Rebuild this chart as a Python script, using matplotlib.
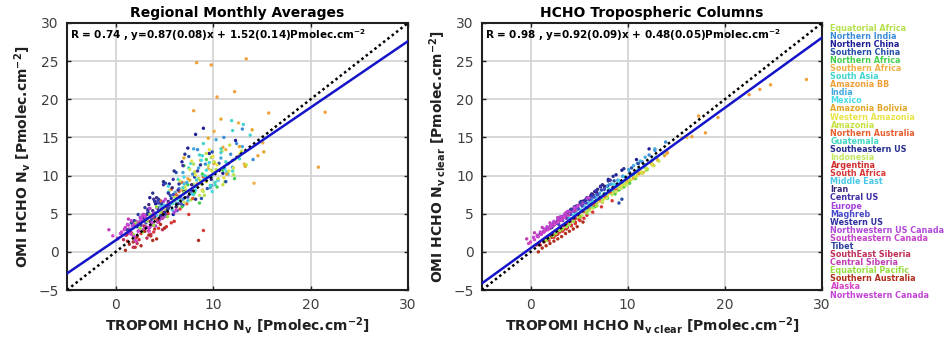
import matplotlib
matplotlib.use("Agg")
import matplotlib.pyplot as plt

plt.rcParams['font.family'] = ['DejaVu Sans']
plt.rcParams['mathtext.fontset'] = 'custom'
plt.rcParams['mathtext.bf'] = 'DejaVu Sans:bold'
plt.rcParams['mathtext.rm'] = 'DejaVu Sans'
plt.rcParams['mathtext.default'] = 'bf'

regions = ["Equatorial Africa", "Northern India", "Northern China", "Southern China",
           "Northern Africa", "Southern Africa", "South Asia", "Amazonia BB", "India",
           "Mexico", "Amazonia Bolivia", "Western Amazonia", "Amazonia",
           "Northern Australia", "Guatemala", "Southeastern US", "Indonesia",
           "Argentina", "South Africa", "Middle East", "Iran", "Central US", "Europe",
           "Maghreb", "Western US", "Northwestern US Canada", "Southeastern Canada",
           "Tibet", "SouthEast Siberia", "Central Siberia", "Equatorial Pacific",
           "Southern Australia", "Alaska", "Northwestern Canada"]

colors = ["#b4e04c", "#3c8cdc", "#1e1e96", "#2850a8", "#44d04c", "#f0b048", "#44d4d0",
          "#f0a038", "#44a8e0", "#48dce8", "#e4a828", "#e8e448", "#c8e040", "#e86030",
          "#44d8c4", "#283090", "#c4e864", "#d02c2c", "#d83838", "#48c8e8", "#3c2878",
          "#4030a4", "#a440d8", "#4848c8", "#3030a0", "#b048d8", "#c444c8", "#3040a0",
          "#c03058", "#c040b4", "#98e040", "#b03020", "#d444c4", "#c444d8"]

# Left panel: TROPOMI Nv (x) vs OMI Nv (y)
left_x = [
    [7.2, 8.5, 9.1, 10.3, 11.2, 8.0, 9.8, 12.1, 7.7, 10.9, 8.8, 9.5],
    [6.5, 7.9, 9.2, 10.5, 11.8, 13.0, 8.4, 12.4, 6.9, 9.8, 11.1, 14.1],
    [2.8, 4.1, 5.5, 6.8, 8.2, 9.6, 11.0, 12.3, 3.5, 7.4, 9.0, 5.9],
    [4.3, 5.6, 6.9, 8.1, 9.4, 10.6, 5.1, 7.5, 8.8, 6.2, 9.9, 11.3],
    [6.2, 7.4, 8.6, 9.8, 11.0, 7.0, 8.1, 9.3, 10.4, 12.2, 6.8, 8.9],
    [5.3, 6.8, 8.0, 9.5, 11.3, 13.2, 7.4, 10.1, 12.6, 15.1, 8.7, 14.2],
    [8.3, 9.6, 10.8, 12.0, 13.1, 9.0, 11.4, 12.7, 10.2, 13.8, 8.9, 11.9],
    [8.3, 9.8, 12.2, 21.5, 20.8, 15.7, 8.0, 10.4, 13.4, 7.1, 11.0, 14.6],
    [6.1, 7.3, 8.5, 9.7, 10.8, 12.0, 6.9, 8.0, 9.2, 10.3, 11.5, 13.0],
    [4.8, 5.9, 7.0, 8.2, 9.3, 10.5, 5.4, 6.5, 7.7, 8.8, 9.9, 11.2],
    [6.4, 7.6, 8.9, 10.1, 11.4, 12.7, 14.0, 7.0, 9.5, 13.3, 15.2, 10.8],
    [7.1, 8.2, 9.3, 10.4, 11.6, 12.7, 7.8, 8.9, 10.0, 11.1, 9.6, 12.1],
    [7.5, 8.7, 9.8, 11.0, 12.2, 13.4, 8.1, 9.3, 10.5, 11.7, 12.9, 10.1],
    [4.0, 5.1, 6.2, 7.3, 8.4, 4.6, 5.7, 6.8, 7.9, 9.0, 5.4, 6.5],
    [5.8, 6.9, 8.0, 9.1, 10.2, 11.3, 6.4, 7.5, 8.6, 9.7, 10.8, 12.0],
    [3.2, 4.3, 5.4, 6.5, 7.6, 8.7, 9.8, 3.8, 4.9, 6.0, 7.1, 8.2],
    [5.0, 6.0, 7.0, 8.0, 9.0, 10.0, 5.5, 6.6, 7.6, 8.6, 9.5, 6.3],
    [1.2, 2.0, 2.8, 3.6, 4.4, 5.2, 1.6, 2.4, 3.2, 4.0, 4.8, 6.0],
    [2.1, 3.0, 3.9, 4.8, 5.7, 6.6, 7.5, 9.0, 2.6, 3.5, 4.4, 5.3],
    [4.2, 5.0, 5.8, 6.6, 7.4, 8.2, 4.6, 5.4, 6.2, 7.0, 7.8, 9.1],
    [3.0, 3.8, 4.6, 5.4, 6.2, 7.0, 3.4, 4.2, 5.0, 5.8, 6.6, 7.8],
    [2.4, 3.4, 4.4, 5.4, 6.4, 7.4, 8.4, 2.9, 3.9, 4.9, 5.9, 6.9],
    [1.3, 2.1, 2.9, 3.7, 4.5, 5.3, 1.7, 2.5, 3.3, 4.1, 4.9, 6.0],
    [3.1, 3.9, 4.7, 5.5, 6.3, 7.1, 3.5, 4.3, 5.1, 5.9, 6.7, 7.8],
    [2.2, 2.9, 3.6, 4.3, 5.0, 5.7, 6.4, 2.6, 3.3, 4.0, 4.7, 5.4],
    [1.0, 1.7, 2.4, 3.1, 3.8, 4.5, 1.4, 2.1, 2.8, 3.5, 4.2, 5.0],
    [1.5, 2.3, 3.1, 3.9, 4.7, 5.5, 1.9, 2.7, 3.5, 4.3, 5.1, 6.2],
    [1.2, 1.9, 2.6, 3.3, 4.0, 4.7, 1.6, 2.3, 3.0, 3.7, 4.4, 5.3],
    [0.8, 1.5, 2.2, 2.9, 3.6, 4.3, 1.1, 1.8, 2.5, 3.2, 3.9, 4.8],
    [-0.7, 0.2, 1.0, 1.8, 2.6, 3.4, 0.5, 1.3, 2.1, 2.9, 3.7, 4.4],
    [1.8, 2.5, 3.2, 3.9, 4.6, 5.3, 2.1, 2.8, 3.5, 4.2, 6.0, 7.0],
    [1.0, 1.8, 2.6, 3.4, 4.2, 5.0, 1.4, 2.2, 3.0, 3.8, 4.6, 8.5],
    [0.2, 0.9, 1.6, 2.3, 3.0, 3.7, 0.6, 1.3, 2.0, 2.7, 3.4, -0.3],
    [0.5, 1.2, 1.9, 2.6, 3.3, 4.0, 0.9, 1.6, 2.3, 3.0, 3.7, 4.7],
]
left_y = [
    [8.1, 9.6, 7.4, 10.8, 9.2, 11.5, 12.4, 10.1, 6.8, 13.2, 8.9, 9.9],
    [8.3, 10.2, 11.5, 9.4, 12.8, 16.1, 13.4, 14.2, 6.9, 8.7, 15.0, 12.1],
    [4.2, 6.3, 8.9, 11.8, 15.4, 12.9, 10.3, 14.6, 7.1, 13.6, 16.2, 4.9],
    [5.7, 7.4, 6.1, 9.8, 8.3, 11.6, 9.0, 12.5, 7.0, 10.4, 13.1, 9.2],
    [7.0, 8.8, 6.4, 9.9, 10.7, 11.3, 7.8, 12.1, 8.5, 9.6, 5.9, 10.2],
    [6.2, 8.1, 7.0, 10.9, 13.4, 11.5, 9.6, 15.8, 16.9, 14.3, 12.0, 9.0],
    [9.4, 11.7, 13.0, 15.9, 16.7, 14.2, 10.5, 12.2, 8.8, 15.3, 12.6, 17.2],
    [24.8, 24.5, 21.0, 18.3, 11.1, 18.2, 18.5, 20.3, 25.3, 9.0, 13.7, 12.6],
    [7.8, 9.1, 11.0, 8.4, 12.3, 11.1, 10.4, 13.5, 9.9, 14.7, 10.2, 13.8],
    [5.9, 7.5, 9.8, 8.1, 10.7, 9.4, 8.6, 6.8, 11.6, 12.0, 7.9, 10.9],
    [7.3, 9.4, 8.1, 11.6, 10.2, 13.8, 16.0, 12.3, 14.9, 11.2, 13.1, 17.4],
    [8.5, 10.1, 9.2, 11.4, 10.6, 12.8, 11.9, 8.0, 12.5, 9.7, 13.4, 11.0],
    [7.9, 9.3, 10.7, 8.8, 12.1, 11.4, 10.5, 12.9, 9.6, 14.0, 13.2, 11.8],
    [4.4, 5.8, 7.5, 6.3, 8.9, 6.7, 8.2, 9.1, 7.0, 9.8, 5.0, 7.9],
    [6.3, 8.4, 7.5, 10.0, 9.1, 11.8, 9.5, 11.0, 12.7, 8.7, 13.5, 10.6],
    [4.9, 6.5, 5.8, 8.9, 7.6, 11.4, 9.5, 7.7, 9.2, 10.6, 12.8, 6.9],
    [5.6, 7.2, 6.5, 8.9, 7.9, 10.4, 8.0, 9.3, 10.8, 7.4, 11.3, 5.9],
    [1.4, 0.6, 2.8, 2.1, 3.9, 3.3, 2.5, 1.6, 4.4, 3.0, 5.1, 4.0],
    [1.9, 3.2, 2.6, 4.4, 3.8, 5.6, 4.9, 2.8, 2.4, 4.0, 3.1, 5.0],
    [4.8, 6.1, 5.5, 7.3, 6.7, 8.6, 6.0, 7.8, 6.4, 8.9, 7.6, 9.5],
    [4.1, 5.4, 4.7, 6.6, 5.9, 7.9, 6.2, 7.1, 5.2, 8.4, 7.2, 8.8],
    [3.6, 5.0, 6.4, 5.7, 8.1, 7.2, 10.6, 4.8, 6.9, 8.8, 9.5, 11.3],
    [2.4, 3.6, 3.0, 4.8, 4.2, 6.1, 3.9, 4.5, 5.6, 3.4, 6.6, 5.2],
    [3.8, 5.1, 4.4, 6.0, 5.4, 7.1, 5.7, 6.6, 4.9, 7.5, 6.3, 8.0],
    [3.3, 4.5, 3.9, 5.8, 5.1, 7.0, 6.3, 4.2, 5.5, 6.6, 4.8, 7.7],
    [2.2, 3.4, 2.8, 4.4, 3.7, 5.3, 3.0, 4.0, 4.9, 3.2, 5.8, 4.6],
    [2.7, 3.9, 3.3, 5.1, 4.4, 6.4, 3.6, 4.7, 5.7, 3.9, 6.9, 5.5],
    [2.9, 4.1, 3.5, 5.2, 4.6, 6.3, 3.8, 4.9, 5.8, 4.3, 6.9, 5.5],
    [1.6, 2.8, 1.1, 3.4, 2.3, 4.2, 2.2, 0.6, 3.7, 1.8, 4.8, 2.9],
    [2.9, 1.7, 3.2, 2.1, 3.9, 2.8, 2.4, 4.3, 1.4, 4.9, 3.5, 5.3],
    [2.3, 3.1, 4.0, 3.5, 5.2, 4.6, 3.8, 2.6, 4.9, 5.9, 6.7, 7.8],
    [0.2, 1.3, 0.8, 2.2, 1.7, 3.1, 1.0, 2.0, 2.7, 1.5, 3.6, 1.5],
    [1.8, 2.9, 2.3, 3.7, 3.1, 4.6, 2.6, 3.5, 1.5, 4.2, 2.7, 2.1],
    [2.4, 3.6, 2.0, 4.3, 3.2, 5.0, 3.0, 4.1, 2.7, 4.7, 3.8, 5.6],
]

# Right panel: TROPOMI Nv clear (x) vs OMI Nv clear (y)
right_x = [
    [7.0, 8.3, 9.0, 10.1, 11.0, 7.8, 9.6, 11.9, 7.5, 10.6, 8.6, 9.3],
    [6.3, 7.6, 9.0, 10.2, 11.5, 12.8, 8.1, 12.2, 6.7, 9.5, 11.0, 13.9],
    [2.6, 3.9, 5.3, 6.6, 8.0, 9.4, 10.9, 12.2, 3.3, 7.2, 8.8, 5.7],
    [4.1, 5.4, 6.7, 7.9, 9.1, 10.4, 4.9, 7.3, 8.6, 6.0, 9.4, 11.1],
    [6.0, 7.2, 8.4, 9.6, 10.8, 6.8, 7.9, 9.1, 10.2, 12.0, 6.6, 8.7],
    [5.1, 6.6, 7.8, 9.3, 11.1, 13.0, 7.2, 9.9, 12.4, 16.1, 8.5, 14.0],
    [8.1, 9.4, 10.6, 11.8, 12.9, 8.8, 11.2, 12.5, 10.0, 13.6, 8.7, 11.7],
    [24.7, 28.4, 23.6, 22.5, 19.3, 17.3, 18.0, 16.6, 14.1, 9.2, 11.6, 7.4],
    [5.9, 7.1, 8.3, 9.5, 10.6, 11.8, 6.7, 7.8, 9.0, 10.1, 11.3, 12.8],
    [4.6, 5.7, 6.8, 8.0, 9.1, 10.3, 5.2, 6.3, 7.5, 8.6, 9.7, 11.0],
    [6.2, 7.4, 8.7, 9.9, 11.2, 12.5, 13.8, 6.8, 9.3, 13.1, 15.6, 10.6],
    [6.9, 8.0, 9.1, 10.2, 11.4, 12.5, 7.6, 8.7, 9.8, 10.9, 9.4, 11.9],
    [7.3, 8.5, 9.6, 10.8, 12.0, 13.2, 7.9, 9.1, 10.3, 11.5, 12.7, 9.9],
    [3.8, 4.9, 6.0, 7.1, 8.2, 4.4, 5.5, 6.6, 7.7, 8.8, 5.2, 6.3],
    [5.6, 6.7, 7.8, 8.9, 10.0, 11.1, 6.2, 7.3, 8.4, 9.5, 10.6, 11.8],
    [3.0, 4.1, 5.2, 6.3, 7.4, 8.5, 9.6, 3.6, 4.7, 5.8, 6.9, 8.0],
    [4.8, 5.8, 6.8, 7.8, 8.8, 9.8, 5.3, 6.4, 7.4, 8.4, 9.3, 6.1],
    [1.0, 1.8, 2.6, 3.4, 4.2, 5.0, 1.4, 2.2, 3.0, 3.8, 4.6, 5.8],
    [1.9, 2.8, 3.7, 4.6, 5.5, 6.4, 7.3, 8.4, 2.4, 3.3, 4.2, 5.1],
    [4.0, 4.8, 5.6, 6.4, 7.2, 8.0, 4.4, 5.2, 6.0, 6.8, 7.6, 8.9],
    [2.8, 3.6, 4.4, 5.2, 6.0, 6.8, 3.2, 4.0, 4.8, 5.6, 6.4, 7.6],
    [2.2, 3.2, 4.2, 5.2, 6.2, 7.2, 8.2, 2.7, 3.7, 4.7, 5.7, 6.7],
    [1.1, 1.9, 2.7, 3.5, 4.3, 5.1, 1.5, 2.3, 3.1, 3.9, 4.7, 5.8],
    [2.9, 3.7, 4.5, 5.3, 6.1, 6.9, 3.3, 4.1, 4.9, 5.7, 6.5, 7.6],
    [2.0, 2.7, 3.4, 4.1, 4.8, 5.5, 6.2, 2.4, 3.1, 3.8, 4.5, 5.2],
    [0.8, 1.5, 2.2, 2.9, 3.6, 4.3, 1.2, 1.9, 2.6, 3.3, 4.0, 4.8],
    [1.3, 2.1, 2.9, 3.7, 4.5, 5.3, 1.7, 2.5, 3.3, 4.1, 4.9, 6.0],
    [1.0, 1.7, 2.4, 3.1, 3.8, 4.5, 1.4, 2.1, 2.8, 3.5, 4.2, 5.1],
    [0.6, 1.3, 2.0, 2.7, 3.4, 4.1, 0.9, 1.6, 2.3, 3.0, 3.7, 4.6],
    [-0.4, 0.4, 1.2, 2.0, 2.8, 3.6, 0.7, 1.5, 2.3, 3.1, 3.9, 4.6],
    [1.6, 2.3, 3.0, 3.7, 4.4, 5.1, 1.9, 2.6, 3.3, 4.0, 5.8, 6.8],
    [0.8, 1.6, 2.4, 3.2, 4.0, 4.8, 1.2, 2.0, 2.8, 3.6, 4.4, 5.4],
    [0.0, 0.7, 1.4, 2.1, 2.8, 3.5, 0.4, 1.1, 1.8, 2.5, 3.2, -0.2],
    [0.3, 1.0, 1.7, 2.4, 3.1, 3.8, 0.7, 1.4, 2.1, 2.8, 3.5, 4.5],
]
right_y = [
    [6.6, 7.8, 8.2, 9.3, 10.1, 7.2, 8.7, 10.7, 6.9, 9.6, 7.9, 8.4],
    [6.9, 8.3, 9.4, 10.4, 11.8, 13.3, 8.8, 12.7, 7.1, 9.9, 11.6, 14.4],
    [3.8, 5.2, 6.6, 7.9, 9.5, 10.7, 12.1, 13.5, 4.5, 8.6, 10.1, 6.8],
    [5.0, 6.3, 7.4, 8.6, 6.4, 11.0, 5.7, 8.1, 9.3, 6.9, 6.9, 11.6],
    [5.5, 6.7, 7.6, 8.5, 9.6, 6.1, 7.0, 8.1, 9.0, 10.8, 5.9, 7.6],
    [4.9, 6.3, 7.4, 8.7, 10.2, 12.3, 6.7, 9.1, 11.6, 15.0, 7.8, 12.9],
    [8.2, 9.1, 10.2, 11.3, 12.4, 8.6, 10.9, 12.0, 9.6, 12.9, 7.9, 11.1],
    [21.9, 22.6, 21.3, 20.6, 17.6, 17.8, 15.6, 15.1, 13.0, 8.6, 10.4, 6.5],
    [6.4, 7.7, 8.9, 9.9, 11.3, 12.4, 7.4, 8.6, 9.3, 10.8, 11.9, 13.5],
    [4.9, 5.8, 7.0, 8.1, 9.3, 10.0, 5.3, 6.4, 7.4, 8.8, 9.8, 10.6],
    [5.8, 6.9, 8.0, 9.2, 10.3, 11.5, 12.6, 6.3, 8.5, 12.0, 14.9, 9.7],
    [6.7, 7.6, 8.5, 9.5, 10.5, 11.4, 7.0, 8.0, 9.0, 9.9, 8.7, 10.9],
    [6.9, 7.9, 8.8, 9.8, 10.9, 11.9, 7.3, 8.3, 9.4, 10.3, 11.3, 8.9],
    [3.9, 4.8, 5.9, 6.9, 7.8, 4.3, 5.3, 6.2, 7.2, 8.1, 4.6, 6.0],
    [5.6, 6.6, 7.6, 8.7, 9.7, 10.8, 6.0, 7.1, 8.1, 9.2, 10.2, 11.4],
    [4.3, 5.5, 6.6, 7.6, 8.8, 9.9, 10.9, 4.9, 6.0, 7.1, 8.2, 9.3],
    [4.4, 5.3, 6.1, 7.0, 7.9, 8.7, 4.8, 5.7, 6.6, 7.5, 8.3, 5.4],
    [0.9, 1.6, 2.2, 2.9, 3.5, 4.2, 1.3, 1.9, 2.6, 3.2, 3.9, 4.8],
    [1.5, 2.3, 3.0, 3.7, 4.4, 5.2, 5.9, 6.7, 1.9, 2.7, 3.4, 4.1],
    [4.4, 5.1, 5.9, 6.6, 7.3, 8.1, 4.8, 5.5, 6.3, 7.0, 7.7, 8.9],
    [3.9, 4.7, 5.5, 6.3, 7.0, 7.8, 4.4, 5.2, 5.9, 6.7, 7.5, 8.6],
    [3.2, 4.3, 5.3, 6.4, 7.4, 8.5, 9.4, 3.8, 4.9, 5.9, 6.9, 8.0],
    [2.3, 3.1, 3.9, 4.7, 5.5, 6.3, 2.8, 3.6, 4.4, 5.1, 5.9, 7.0],
    [3.6, 4.4, 5.3, 6.0, 6.8, 7.5, 4.1, 4.9, 5.6, 6.4, 7.2, 8.2],
    [3.1, 3.9, 4.6, 5.3, 6.0, 6.7, 7.3, 3.5, 4.2, 4.9, 5.6, 6.4],
    [2.0, 2.8, 3.5, 4.1, 4.8, 5.4, 2.5, 3.1, 3.8, 4.5, 5.2, 5.9],
    [2.6, 3.4, 4.2, 4.9, 5.7, 6.4, 3.0, 3.8, 4.6, 5.3, 6.1, 7.1],
    [2.4, 3.2, 3.9, 4.6, 5.2, 5.9, 2.7, 3.5, 4.2, 4.9, 5.6, 6.5],
    [0.9, 1.5, 2.1, 2.8, 3.4, 4.0, 1.2, 1.8, 2.4, 3.1, 3.7, 4.4],
    [1.7, 2.5, 3.2, 3.8, 4.5, 5.1, 2.1, 2.8, 3.5, 4.1, 4.8, 5.4],
    [1.5, 2.1, 2.8, 3.3, 4.0, 4.6, 1.8, 2.4, 3.0, 3.6, 5.1, 6.0],
    [0.0, 0.8, 1.4, 2.0, 2.7, 3.3, 0.5, 1.1, 1.7, 2.4, 3.0, 3.9],
    [1.3, 2.0, 2.6, 3.3, 3.9, 4.5, 1.6, 2.3, 2.9, 3.6, 4.2, 1.1],
    [1.9, 2.6, 3.3, 4.0, 4.6, 5.3, 2.2, 3.0, 3.6, 4.3, 4.9, 5.8],
]

fit_left = (0.87, 1.52)
fit_right = (0.92, 0.48)
line_x = [-5, 30]

titles = ["Regional Monthly Averages", "HCHO Tropospheric Columns"]
stats = [r"R = 0.74 , y=0.87(0.08)x + 1.52(0.14)Pmolec.cm$^{-2}$",
         r"R = 0.98 , y=0.92(0.09)x + 0.48(0.05)Pmolec.cm$^{-2}$"]
xlabels = [r"TROPOMI HCHO N$_{v}$ [Pmolec.cm$^{-2}$]",
           r"TROPOMI HCHO N$_{v\ clear}$ [Pmolec.cm$^{-2}$]"]
ylabels = [r"OMI HCHO N$_{v}$ [Pmolec.cm$^{-2}$]",
           r"OMI HCHO N$_{v\ clear}$ [Pmolec.cm$^{-2}$]"]

fig = plt.figure(figsize=(9.48, 3.45), dpi=100)
ax1 = fig.add_axes([67/948, 55/345, 341/948, 267/345])
ax2 = fig.add_axes([482/948, 55/345, 340/948, 267/345])

for k, (ax, xs, ys, fit) in enumerate([(ax1, left_x, left_y, fit_left),
                                        (ax2, right_x, right_y, fit_right)]):
    ax.set_xlim(-5, 30)
    ax.set_ylim(-5, 30)
    ax.set_xticks([0, 10, 20, 30])
    ax.set_yticks([-5, 0, 5, 10, 15, 20, 25, 30])
    ax.grid(True, color='#d4d4d4', linewidth=1.3)
    ax.set_axisbelow(True)
    for xv, yv, c in zip(xs, ys, colors):
        ax.scatter(xv, yv, s=6, color=c, edgecolors='none', zorder=2)
    ax.plot(line_x, line_x, color='black', linestyle=(0, (1, 1.2)), linewidth=1.8, zorder=3)
    ax.plot(line_x, [fit[0]*v + fit[1] for v in line_x], color='#1414c8', linewidth=1.8, zorder=4)
    for s in ax.spines.values():
        s.set_linewidth(1.5)
        s.set_color('#202020')
    ax.tick_params(direction='in', length=3, width=1, top=True, right=True,
                   labelsize=10, labelcolor='#404040', color='#202020', pad=6)
    ax.set_title(titles[k], fontsize=10, fontweight='bold', pad=4)
    ax.text(-4.7, 28.4, stats[k], fontsize=7.5, fontweight='bold', va='center', ha='left', zorder=5)
    ax.set_xlabel(xlabels[k], fontsize=10, fontweight='bold', color='#202020', labelpad=2)
    ax.set_ylabel(ylabels[k], fontsize=10, fontweight='bold', color='#202020', labelpad=4)

for i, (name, c) in enumerate(zip(regions, colors)):
    ax2.text(1.025, 0.981 - i*0.0303, name, transform=ax2.transAxes, fontsize=5.8,
             fontweight='bold', color=c, va='center', ha='left')

fig.savefig("out.png", dpi=100)
